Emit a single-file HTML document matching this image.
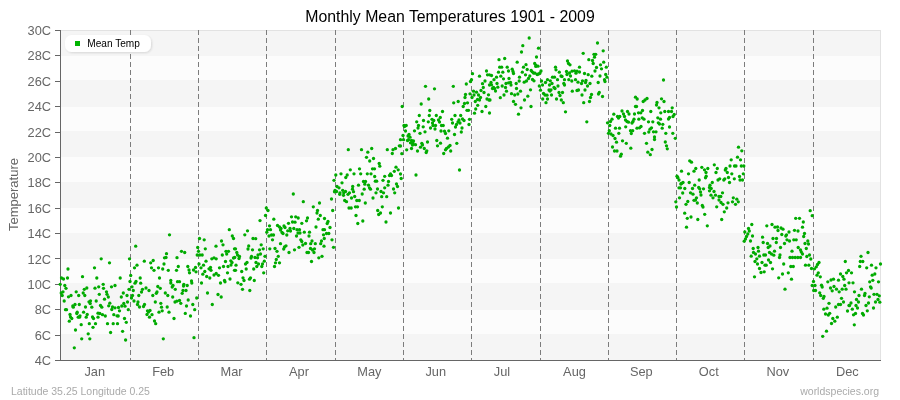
<!DOCTYPE html>
<html lang="en"><head><meta charset="utf-8"><title>Monthly Mean Temperatures 1901 - 2009</title>
<style>html,body{margin:0;padding:0;background:#fff;overflow:hidden}svg{display:block}text{font-family:"Liberation Sans",sans-serif}</style></head><body>
<svg width="900" height="400" viewBox="0 0 900 400">
<defs><filter id="sh" x="-10%" y="-30%" width="120%" height="170%"><feGaussianBlur in="SourceAlpha" stdDeviation="1"/><feOffset dx="1" dy="1"/><feComponentTransfer><feFuncA type="linear" slope="0.13"/></feComponentTransfer><feMerge><feMergeNode/><feMergeNode in="SourceGraphic"/></feMerge></filter></defs>
<rect width="900" height="400" fill="#fff"/>
<rect x="60" y="30" width="821" height="330" fill="#f5f5f5" shape-rendering="crispEdges"/>
<g fill="#fcfcfc" shape-rendering="crispEdges">
<rect x="61" y="56" width="820" height="24"/>
<rect x="61" y="107" width="820" height="24"/>
<rect x="61" y="157" width="820" height="25"/>
<rect x="61" y="208" width="820" height="25"/>
<rect x="61" y="259" width="820" height="24"/>
<rect x="61" y="310" width="820" height="24"/>
</g>
<g fill="#e2e2e2" shape-rendering="crispEdges"><rect x="60" y="30" width="821" height="1"/><rect x="880" y="30" width="1" height="330"/></g>
<g stroke="#7c7c7c" stroke-width="1" stroke-dasharray="5 3" shape-rendering="crispEdges">
<line x1="130.5" y1="30" x2="130.5" y2="360"/>
<line x1="198.5" y1="30" x2="198.5" y2="360"/>
<line x1="266.5" y1="30" x2="266.5" y2="360"/>
<line x1="335.5" y1="30" x2="335.5" y2="360"/>
<line x1="403.5" y1="30" x2="403.5" y2="360"/>
<line x1="471.5" y1="30" x2="471.5" y2="360"/>
<line x1="540.5" y1="30" x2="540.5" y2="360"/>
<line x1="608.5" y1="30" x2="608.5" y2="360"/>
<line x1="676.5" y1="30" x2="676.5" y2="360"/>
<line x1="744.5" y1="30" x2="744.5" y2="360"/>
<line x1="813.5" y1="30" x2="813.5" y2="360"/>
</g>
<g fill="#666" shape-rendering="crispEdges">
<rect x="60" y="30" width="1" height="331"/>
<rect x="60" y="360" width="821" height="1"/>
<rect x="55" y="30" width="5" height="1"/>
<rect x="55" y="55" width="5" height="1"/>
<rect x="55" y="81" width="5" height="1"/>
<rect x="55" y="106" width="5" height="1"/>
<rect x="55" y="132" width="5" height="1"/>
<rect x="55" y="157" width="5" height="1"/>
<rect x="55" y="182" width="5" height="1"/>
<rect x="55" y="208" width="5" height="1"/>
<rect x="55" y="233" width="5" height="1"/>
<rect x="55" y="258" width="5" height="1"/>
<rect x="55" y="284" width="5" height="1"/>
<rect x="55" y="309" width="5" height="1"/>
<rect x="55" y="335" width="5" height="1"/>
<rect x="55" y="360" width="5" height="1"/>
</g>
<g fill="#00ab00">
<circle cx="135.7" cy="246.2" r="1.65"/>
<circle cx="101.2" cy="258.8" r="1.65"/>
<circle cx="129.5" cy="258.8" r="1.65"/>
<circle cx="109.5" cy="262.8" r="1.65"/>
<circle cx="144.3" cy="261.2" r="1.65"/>
<circle cx="137.0" cy="265.2" r="1.65"/>
<circle cx="134.5" cy="267.8" r="1.65"/>
<circle cx="68.0" cy="269.0" r="1.65"/>
<circle cx="94.5" cy="267.8" r="1.65"/>
<circle cx="130.7" cy="275.5" r="1.65"/>
<circle cx="61.5" cy="278.0" r="1.65"/>
<circle cx="63.5" cy="279.0" r="1.65"/>
<circle cx="67.5" cy="278.0" r="1.65"/>
<circle cx="82.5" cy="276.7" r="1.65"/>
<circle cx="96.8" cy="278.0" r="1.65"/>
<circle cx="120.2" cy="278.0" r="1.65"/>
<circle cx="140.2" cy="278.0" r="1.65"/>
<circle cx="130.0" cy="281.5" r="1.65"/>
<circle cx="136.0" cy="281.5" r="1.65"/>
<circle cx="135.0" cy="283.2" r="1.65"/>
<circle cx="140.7" cy="283.2" r="1.65"/>
<circle cx="60.2" cy="284.3" r="1.65"/>
<circle cx="103.2" cy="284.3" r="1.65"/>
<circle cx="115.0" cy="285.5" r="1.65"/>
<circle cx="111.5" cy="286.8" r="1.65"/>
<circle cx="64.8" cy="285.5" r="1.65"/>
<circle cx="66.0" cy="288.3" r="1.65"/>
<circle cx="98.7" cy="286.8" r="1.65"/>
<circle cx="95.0" cy="288.2" r="1.65"/>
<circle cx="103.5" cy="288.3" r="1.65"/>
<circle cx="86.8" cy="288.0" r="1.65"/>
<circle cx="84.3" cy="289.3" r="1.65"/>
<circle cx="132.0" cy="286.8" r="1.65"/>
<circle cx="129.0" cy="289.3" r="1.65"/>
<circle cx="133.3" cy="290.5" r="1.65"/>
<circle cx="142.5" cy="289.3" r="1.65"/>
<circle cx="141.5" cy="292.0" r="1.65"/>
<circle cx="63.0" cy="291.8" r="1.65"/>
<circle cx="61.2" cy="293.0" r="1.65"/>
<circle cx="62.2" cy="295.5" r="1.65"/>
<circle cx="76.2" cy="291.8" r="1.65"/>
<circle cx="83.2" cy="293.0" r="1.65"/>
<circle cx="84.8" cy="295.5" r="1.65"/>
<circle cx="78.7" cy="295.5" r="1.65"/>
<circle cx="71.0" cy="295.5" r="1.65"/>
<circle cx="68.5" cy="296.8" r="1.65"/>
<circle cx="99.3" cy="294.3" r="1.65"/>
<circle cx="106.5" cy="291.8" r="1.65"/>
<circle cx="107.0" cy="294.3" r="1.65"/>
<circle cx="108.3" cy="297.0" r="1.65"/>
<circle cx="123.3" cy="293.0" r="1.65"/>
<circle cx="127.0" cy="295.5" r="1.65"/>
<circle cx="121.3" cy="297.0" r="1.65"/>
<circle cx="132.5" cy="295.5" r="1.65"/>
<circle cx="131.5" cy="298.0" r="1.65"/>
<circle cx="138.8" cy="295.5" r="1.65"/>
<circle cx="104.5" cy="299.2" r="1.65"/>
<circle cx="64.2" cy="301.0" r="1.65"/>
<circle cx="89.0" cy="301.8" r="1.65"/>
<circle cx="90.5" cy="300.8" r="1.65"/>
<circle cx="90.2" cy="303.5" r="1.65"/>
<circle cx="96.2" cy="301.0" r="1.65"/>
<circle cx="109.8" cy="303.2" r="1.65"/>
<circle cx="108.7" cy="305.8" r="1.65"/>
<circle cx="127.5" cy="302.0" r="1.65"/>
<circle cx="123.8" cy="303.5" r="1.65"/>
<circle cx="121.8" cy="306.0" r="1.65"/>
<circle cx="125.0" cy="306.2" r="1.65"/>
<circle cx="134.0" cy="301.0" r="1.65"/>
<circle cx="138.0" cy="302.0" r="1.65"/>
<circle cx="137.5" cy="304.5" r="1.65"/>
<circle cx="139.5" cy="307.0" r="1.65"/>
<circle cx="143.5" cy="306.5" r="1.65"/>
<circle cx="144.5" cy="304.5" r="1.65"/>
<circle cx="75.0" cy="304.5" r="1.65"/>
<circle cx="72.8" cy="306.0" r="1.65"/>
<circle cx="73.3" cy="307.2" r="1.65"/>
<circle cx="79.3" cy="304.5" r="1.65"/>
<circle cx="85.5" cy="307.0" r="1.65"/>
<circle cx="91.8" cy="307.2" r="1.65"/>
<circle cx="100.5" cy="305.5" r="1.65"/>
<circle cx="101.8" cy="307.2" r="1.65"/>
<circle cx="112.5" cy="307.0" r="1.65"/>
<circle cx="115.0" cy="307.8" r="1.65"/>
<circle cx="118.5" cy="307.5" r="1.65"/>
<circle cx="111.8" cy="309.5" r="1.65"/>
<circle cx="119.5" cy="310.8" r="1.65"/>
<circle cx="128.3" cy="309.7" r="1.65"/>
<circle cx="65.5" cy="309.7" r="1.65"/>
<circle cx="66.5" cy="309.7" r="1.65"/>
<circle cx="77.2" cy="312.2" r="1.65"/>
<circle cx="76.8" cy="313.5" r="1.65"/>
<circle cx="83.6" cy="312.2" r="1.65"/>
<circle cx="70.0" cy="314.5" r="1.65"/>
<circle cx="70.5" cy="317.0" r="1.65"/>
<circle cx="71.8" cy="318.5" r="1.65"/>
<circle cx="69.3" cy="321.2" r="1.65"/>
<circle cx="80.0" cy="315.8" r="1.65"/>
<circle cx="78.2" cy="317.2" r="1.65"/>
<circle cx="79.5" cy="317.2" r="1.65"/>
<circle cx="87.2" cy="314.5" r="1.65"/>
<circle cx="86.2" cy="317.2" r="1.65"/>
<circle cx="92.5" cy="317.0" r="1.65"/>
<circle cx="93.5" cy="318.5" r="1.65"/>
<circle cx="98.0" cy="313.2" r="1.65"/>
<circle cx="99.8" cy="313.5" r="1.65"/>
<circle cx="102.5" cy="314.7" r="1.65"/>
<circle cx="105.3" cy="316.0" r="1.65"/>
<circle cx="98.0" cy="317.2" r="1.65"/>
<circle cx="113.8" cy="314.7" r="1.65"/>
<circle cx="117.0" cy="315.8" r="1.65"/>
<circle cx="118.2" cy="316.0" r="1.65"/>
<circle cx="124.5" cy="318.5" r="1.65"/>
<circle cx="126.3" cy="322.3" r="1.65"/>
<circle cx="81.2" cy="324.7" r="1.65"/>
<circle cx="89.3" cy="323.7" r="1.65"/>
<circle cx="95.5" cy="323.7" r="1.65"/>
<circle cx="107.5" cy="323.7" r="1.65"/>
<circle cx="113.2" cy="323.7" r="1.65"/>
<circle cx="117.5" cy="323.7" r="1.65"/>
<circle cx="93.0" cy="327.3" r="1.65"/>
<circle cx="75.5" cy="330.0" r="1.65"/>
<circle cx="88.2" cy="333.8" r="1.65"/>
<circle cx="110.6" cy="332.5" r="1.65"/>
<circle cx="122.6" cy="331.3" r="1.65"/>
<circle cx="81.7" cy="338.8" r="1.65"/>
<circle cx="89.8" cy="338.8" r="1.65"/>
<circle cx="125.6" cy="340.0" r="1.65"/>
<circle cx="74.3" cy="347.8" r="1.65"/>
<circle cx="155.3" cy="302.0" r="1.65"/>
<circle cx="160.8" cy="303.3" r="1.65"/>
<circle cx="161.5" cy="307.2" r="1.65"/>
<circle cx="167.2" cy="307.0" r="1.65"/>
<circle cx="175.0" cy="302.0" r="1.65"/>
<circle cx="176.8" cy="301.2" r="1.65"/>
<circle cx="179.5" cy="300.5" r="1.65"/>
<circle cx="180.8" cy="303.3" r="1.65"/>
<circle cx="188.2" cy="300.0" r="1.65"/>
<circle cx="186.5" cy="306.0" r="1.65"/>
<circle cx="192.8" cy="304.5" r="1.65"/>
<circle cx="194.7" cy="309.7" r="1.65"/>
<circle cx="212.3" cy="304.5" r="1.65"/>
<circle cx="147.5" cy="310.8" r="1.65"/>
<circle cx="150.0" cy="310.5" r="1.65"/>
<circle cx="148.5" cy="312.0" r="1.65"/>
<circle cx="147.0" cy="314.5" r="1.65"/>
<circle cx="152.0" cy="314.7" r="1.65"/>
<circle cx="149.5" cy="317.2" r="1.65"/>
<circle cx="159.0" cy="312.2" r="1.65"/>
<circle cx="162.2" cy="310.8" r="1.65"/>
<circle cx="169.0" cy="312.2" r="1.65"/>
<circle cx="185.3" cy="313.4" r="1.65"/>
<circle cx="190.5" cy="316.0" r="1.65"/>
<circle cx="174.0" cy="318.5" r="1.65"/>
<circle cx="154.5" cy="321.0" r="1.65"/>
<circle cx="155.7" cy="323.7" r="1.65"/>
<circle cx="163.3" cy="338.8" r="1.65"/>
<circle cx="194.0" cy="337.7" r="1.65"/>
<circle cx="153.2" cy="260.5" r="1.65"/>
<circle cx="150.7" cy="262.8" r="1.65"/>
<circle cx="164.0" cy="264.0" r="1.65"/>
<circle cx="206.0" cy="261.2" r="1.65"/>
<circle cx="225.5" cy="261.5" r="1.65"/>
<circle cx="230.8" cy="260.8" r="1.65"/>
<circle cx="232.0" cy="262.5" r="1.65"/>
<circle cx="231.0" cy="265.0" r="1.65"/>
<circle cx="199.0" cy="264.0" r="1.65"/>
<circle cx="203.5" cy="265.2" r="1.65"/>
<circle cx="201.0" cy="267.8" r="1.65"/>
<circle cx="195.5" cy="267.5" r="1.65"/>
<circle cx="193.5" cy="270.0" r="1.65"/>
<circle cx="196.0" cy="271.8" r="1.65"/>
<circle cx="151.5" cy="267.8" r="1.65"/>
<circle cx="154.0" cy="270.3" r="1.65"/>
<circle cx="158.5" cy="267.8" r="1.65"/>
<circle cx="162.7" cy="269.0" r="1.65"/>
<circle cx="168.3" cy="270.3" r="1.65"/>
<circle cx="178.3" cy="266.5" r="1.65"/>
<circle cx="176.5" cy="270.3" r="1.65"/>
<circle cx="187.8" cy="266.5" r="1.65"/>
<circle cx="189.0" cy="270.0" r="1.65"/>
<circle cx="189.5" cy="272.8" r="1.65"/>
<circle cx="209.0" cy="268.8" r="1.65"/>
<circle cx="210.5" cy="267.5" r="1.65"/>
<circle cx="211.0" cy="270.3" r="1.65"/>
<circle cx="204.8" cy="271.5" r="1.65"/>
<circle cx="202.8" cy="274.2" r="1.65"/>
<circle cx="219.5" cy="267.8" r="1.65"/>
<circle cx="223.5" cy="266.5" r="1.65"/>
<circle cx="228.0" cy="266.5" r="1.65"/>
<circle cx="234.5" cy="270.3" r="1.65"/>
<circle cx="227.5" cy="272.8" r="1.65"/>
<circle cx="214.0" cy="275.0" r="1.65"/>
<circle cx="216.2" cy="273.5" r="1.65"/>
<circle cx="218.5" cy="275.3" r="1.65"/>
<circle cx="206.7" cy="276.5" r="1.65"/>
<circle cx="209.8" cy="278.0" r="1.65"/>
<circle cx="159.5" cy="278.0" r="1.65"/>
<circle cx="230.0" cy="279.0" r="1.65"/>
<circle cx="224.5" cy="280.5" r="1.65"/>
<circle cx="225.0" cy="281.8" r="1.65"/>
<circle cx="220.5" cy="283.0" r="1.65"/>
<circle cx="170.8" cy="280.5" r="1.65"/>
<circle cx="170.8" cy="283.0" r="1.65"/>
<circle cx="177.5" cy="281.7" r="1.65"/>
<circle cx="179.5" cy="281.7" r="1.65"/>
<circle cx="191.5" cy="281.0" r="1.65"/>
<circle cx="191.8" cy="283.0" r="1.65"/>
<circle cx="201.5" cy="283.0" r="1.65"/>
<circle cx="183.8" cy="284.3" r="1.65"/>
<circle cx="183.5" cy="286.0" r="1.65"/>
<circle cx="187.2" cy="285.5" r="1.65"/>
<circle cx="173.0" cy="285.5" r="1.65"/>
<circle cx="172.2" cy="287.0" r="1.65"/>
<circle cx="175.3" cy="289.3" r="1.65"/>
<circle cx="146.0" cy="288.0" r="1.65"/>
<circle cx="149.0" cy="290.5" r="1.65"/>
<circle cx="157.8" cy="286.5" r="1.65"/>
<circle cx="160.3" cy="288.3" r="1.65"/>
<circle cx="157.0" cy="292.0" r="1.65"/>
<circle cx="156.3" cy="293.3" r="1.65"/>
<circle cx="152.8" cy="295.5" r="1.65"/>
<circle cx="165.3" cy="293.0" r="1.65"/>
<circle cx="167.8" cy="295.5" r="1.65"/>
<circle cx="172.7" cy="297.0" r="1.65"/>
<circle cx="183.0" cy="290.5" r="1.65"/>
<circle cx="186.0" cy="290.5" r="1.65"/>
<circle cx="182.2" cy="293.3" r="1.65"/>
<circle cx="207.5" cy="293.0" r="1.65"/>
<circle cx="218.0" cy="294.5" r="1.65"/>
<circle cx="221.2" cy="297.0" r="1.65"/>
<circle cx="196.7" cy="298.0" r="1.65"/>
<circle cx="169.5" cy="234.8" r="1.65"/>
<circle cx="229.3" cy="229.7" r="1.65"/>
<circle cx="232.3" cy="236.0" r="1.65"/>
<circle cx="233.5" cy="238.5" r="1.65"/>
<circle cx="199.5" cy="238.5" r="1.65"/>
<circle cx="204.2" cy="239.8" r="1.65"/>
<circle cx="221.5" cy="241.0" r="1.65"/>
<circle cx="223.0" cy="244.8" r="1.65"/>
<circle cx="216.0" cy="246.2" r="1.65"/>
<circle cx="197.7" cy="247.5" r="1.65"/>
<circle cx="205.3" cy="248.8" r="1.65"/>
<circle cx="198.5" cy="251.3" r="1.65"/>
<circle cx="197.2" cy="255.0" r="1.65"/>
<circle cx="199.8" cy="255.0" r="1.65"/>
<circle cx="202.2" cy="255.0" r="1.65"/>
<circle cx="181.5" cy="251.3" r="1.65"/>
<circle cx="184.7" cy="252.5" r="1.65"/>
<circle cx="166.5" cy="253.7" r="1.65"/>
<circle cx="164.5" cy="257.8" r="1.65"/>
<circle cx="166.0" cy="257.5" r="1.65"/>
<circle cx="177.0" cy="257.7" r="1.65"/>
<circle cx="234.5" cy="248.8" r="1.65"/>
<circle cx="226.0" cy="251.3" r="1.65"/>
<circle cx="228.5" cy="251.3" r="1.65"/>
<circle cx="226.7" cy="254.0" r="1.65"/>
<circle cx="222.3" cy="255.0" r="1.65"/>
<circle cx="214.0" cy="257.8" r="1.65"/>
<circle cx="211.8" cy="258.8" r="1.65"/>
<circle cx="216.2" cy="258.8" r="1.65"/>
<circle cx="233.5" cy="258.0" r="1.65"/>
<circle cx="234.7" cy="257.5" r="1.65"/>
<circle cx="293.3" cy="194.0" r="1.65"/>
<circle cx="303.3" cy="201.7" r="1.65"/>
<circle cx="319.5" cy="203.0" r="1.65"/>
<circle cx="313.3" cy="206.8" r="1.65"/>
<circle cx="266.3" cy="208.0" r="1.65"/>
<circle cx="268.0" cy="210.5" r="1.65"/>
<circle cx="265.5" cy="215.5" r="1.65"/>
<circle cx="317.5" cy="210.5" r="1.65"/>
<circle cx="317.0" cy="213.0" r="1.65"/>
<circle cx="320.3" cy="215.5" r="1.65"/>
<circle cx="291.5" cy="216.8" r="1.65"/>
<circle cx="295.7" cy="216.8" r="1.65"/>
<circle cx="298.2" cy="218.0" r="1.65"/>
<circle cx="307.5" cy="218.0" r="1.65"/>
<circle cx="318.3" cy="219.2" r="1.65"/>
<circle cx="273.8" cy="219.2" r="1.65"/>
<circle cx="324.5" cy="218.5" r="1.65"/>
<circle cx="260.0" cy="220.6" r="1.65"/>
<circle cx="292.5" cy="222.0" r="1.65"/>
<circle cx="295.0" cy="222.2" r="1.65"/>
<circle cx="306.5" cy="220.8" r="1.65"/>
<circle cx="288.5" cy="223.3" r="1.65"/>
<circle cx="301.8" cy="223.3" r="1.65"/>
<circle cx="316.0" cy="227.0" r="1.65"/>
<circle cx="269.5" cy="225.8" r="1.65"/>
<circle cx="277.5" cy="225.5" r="1.65"/>
<circle cx="279.5" cy="227.0" r="1.65"/>
<circle cx="281.0" cy="228.5" r="1.65"/>
<circle cx="284.0" cy="226.0" r="1.65"/>
<circle cx="285.0" cy="227.5" r="1.65"/>
<circle cx="280.5" cy="230.0" r="1.65"/>
<circle cx="282.0" cy="232.5" r="1.65"/>
<circle cx="283.0" cy="233.5" r="1.65"/>
<circle cx="267.5" cy="229.7" r="1.65"/>
<circle cx="270.5" cy="229.7" r="1.65"/>
<circle cx="266.8" cy="232.2" r="1.65"/>
<circle cx="290.0" cy="228.5" r="1.65"/>
<circle cx="293.8" cy="228.5" r="1.65"/>
<circle cx="287.7" cy="230.8" r="1.65"/>
<circle cx="290.5" cy="231.0" r="1.65"/>
<circle cx="286.8" cy="235.0" r="1.65"/>
<circle cx="297.0" cy="229.7" r="1.65"/>
<circle cx="299.5" cy="229.7" r="1.65"/>
<circle cx="298.0" cy="233.0" r="1.65"/>
<circle cx="300.0" cy="233.0" r="1.65"/>
<circle cx="296.5" cy="236.0" r="1.65"/>
<circle cx="304.3" cy="232.2" r="1.65"/>
<circle cx="309.5" cy="232.2" r="1.65"/>
<circle cx="309.0" cy="236.0" r="1.65"/>
<circle cx="323.0" cy="229.7" r="1.65"/>
<circle cx="324.5" cy="229.7" r="1.65"/>
<circle cx="323.5" cy="234.8" r="1.65"/>
<circle cx="324.3" cy="238.5" r="1.65"/>
<circle cx="247.5" cy="230.8" r="1.65"/>
<circle cx="244.8" cy="234.8" r="1.65"/>
<circle cx="269.0" cy="236.0" r="1.65"/>
<circle cx="271.5" cy="235.0" r="1.65"/>
<circle cx="273.5" cy="235.0" r="1.65"/>
<circle cx="272.5" cy="239.8" r="1.65"/>
<circle cx="253.0" cy="238.5" r="1.65"/>
<circle cx="255.7" cy="238.7" r="1.65"/>
<circle cx="300.8" cy="239.8" r="1.65"/>
<circle cx="301.8" cy="241.5" r="1.65"/>
<circle cx="305.5" cy="243.5" r="1.65"/>
<circle cx="302.8" cy="245.0" r="1.65"/>
<circle cx="312.0" cy="241.0" r="1.65"/>
<circle cx="310.7" cy="243.7" r="1.65"/>
<circle cx="315.3" cy="243.7" r="1.65"/>
<circle cx="321.5" cy="241.0" r="1.65"/>
<circle cx="320.7" cy="243.7" r="1.65"/>
<circle cx="324.0" cy="246.2" r="1.65"/>
<circle cx="280.5" cy="243.7" r="1.65"/>
<circle cx="286.0" cy="245.8" r="1.65"/>
<circle cx="284.5" cy="247.0" r="1.65"/>
<circle cx="283.7" cy="249.0" r="1.65"/>
<circle cx="261.2" cy="244.8" r="1.65"/>
<circle cx="248.7" cy="246.0" r="1.65"/>
<circle cx="248.0" cy="249.0" r="1.65"/>
<circle cx="252.5" cy="249.8" r="1.65"/>
<circle cx="259.5" cy="249.8" r="1.65"/>
<circle cx="263.2" cy="248.8" r="1.65"/>
<circle cx="269.8" cy="248.8" r="1.65"/>
<circle cx="275.0" cy="248.5" r="1.65"/>
<circle cx="277.0" cy="251.3" r="1.65"/>
<circle cx="299.0" cy="247.3" r="1.65"/>
<circle cx="294.5" cy="249.8" r="1.65"/>
<circle cx="289.0" cy="252.5" r="1.65"/>
<circle cx="310.5" cy="248.5" r="1.65"/>
<circle cx="314.5" cy="248.8" r="1.65"/>
<circle cx="312.5" cy="250.0" r="1.65"/>
<circle cx="314.0" cy="252.5" r="1.65"/>
<circle cx="307.0" cy="252.5" r="1.65"/>
<circle cx="308.5" cy="252.5" r="1.65"/>
<circle cx="235.5" cy="248.8" r="1.65"/>
<circle cx="236.8" cy="252.5" r="1.65"/>
<circle cx="237.5" cy="255.0" r="1.65"/>
<circle cx="239.5" cy="256.5" r="1.65"/>
<circle cx="239.0" cy="258.5" r="1.65"/>
<circle cx="260.5" cy="254.0" r="1.65"/>
<circle cx="258.0" cy="255.0" r="1.65"/>
<circle cx="251.5" cy="256.5" r="1.65"/>
<circle cx="251.0" cy="258.0" r="1.65"/>
<circle cx="255.0" cy="257.5" r="1.65"/>
<circle cx="257.5" cy="257.8" r="1.65"/>
<circle cx="265.0" cy="256.3" r="1.65"/>
<circle cx="278.3" cy="256.3" r="1.65"/>
<circle cx="276.3" cy="259.5" r="1.65"/>
<circle cx="322.0" cy="256.3" r="1.65"/>
<circle cx="318.8" cy="257.8" r="1.65"/>
<circle cx="264.3" cy="261.2" r="1.65"/>
<circle cx="275.5" cy="262.8" r="1.65"/>
<circle cx="311.5" cy="261.5" r="1.65"/>
<circle cx="247.0" cy="262.5" r="1.65"/>
<circle cx="245.5" cy="264.0" r="1.65"/>
<circle cx="256.0" cy="262.5" r="1.65"/>
<circle cx="258.5" cy="264.0" r="1.65"/>
<circle cx="256.8" cy="266.5" r="1.65"/>
<circle cx="262.5" cy="264.0" r="1.65"/>
<circle cx="261.8" cy="266.5" r="1.65"/>
<circle cx="279.5" cy="262.8" r="1.65"/>
<circle cx="274.5" cy="266.5" r="1.65"/>
<circle cx="236.0" cy="265.2" r="1.65"/>
<circle cx="235.5" cy="270.3" r="1.65"/>
<circle cx="246.2" cy="269.0" r="1.65"/>
<circle cx="241.7" cy="271.5" r="1.65"/>
<circle cx="253.7" cy="269.0" r="1.65"/>
<circle cx="263.7" cy="272.8" r="1.65"/>
<circle cx="243.0" cy="277.8" r="1.65"/>
<circle cx="244.0" cy="280.5" r="1.65"/>
<circle cx="250.5" cy="277.8" r="1.65"/>
<circle cx="249.5" cy="279.2" r="1.65"/>
<circle cx="254.3" cy="280.5" r="1.65"/>
<circle cx="237.8" cy="282.8" r="1.65"/>
<circle cx="241.0" cy="284.3" r="1.65"/>
<circle cx="242.5" cy="289.3" r="1.65"/>
<circle cx="249.8" cy="290.5" r="1.65"/>
<circle cx="334.0" cy="180.3" r="1.65"/>
<circle cx="383.0" cy="180.3" r="1.65"/>
<circle cx="363.5" cy="181.5" r="1.65"/>
<circle cx="365.5" cy="181.5" r="1.65"/>
<circle cx="364.8" cy="184.2" r="1.65"/>
<circle cx="375.3" cy="181.2" r="1.65"/>
<circle cx="376.7" cy="181.2" r="1.65"/>
<circle cx="388.5" cy="181.5" r="1.65"/>
<circle cx="388.0" cy="185.2" r="1.65"/>
<circle cx="342.0" cy="182.8" r="1.65"/>
<circle cx="358.5" cy="185.2" r="1.65"/>
<circle cx="368.5" cy="185.2" r="1.65"/>
<circle cx="369.5" cy="187.8" r="1.65"/>
<circle cx="370.5" cy="189.2" r="1.65"/>
<circle cx="364.2" cy="189.2" r="1.65"/>
<circle cx="352.7" cy="186.5" r="1.65"/>
<circle cx="352.5" cy="189.2" r="1.65"/>
<circle cx="353.5" cy="191.7" r="1.65"/>
<circle cx="337.0" cy="186.5" r="1.65"/>
<circle cx="339.0" cy="187.8" r="1.65"/>
<circle cx="335.0" cy="190.5" r="1.65"/>
<circle cx="336.5" cy="191.5" r="1.65"/>
<circle cx="334.5" cy="191.8" r="1.65"/>
<circle cx="340.0" cy="192.8" r="1.65"/>
<circle cx="339.7" cy="194.3" r="1.65"/>
<circle cx="342.7" cy="190.3" r="1.65"/>
<circle cx="345.5" cy="191.5" r="1.65"/>
<circle cx="343.7" cy="192.8" r="1.65"/>
<circle cx="343.5" cy="195.3" r="1.65"/>
<circle cx="349.5" cy="192.8" r="1.65"/>
<circle cx="348.0" cy="194.3" r="1.65"/>
<circle cx="384.7" cy="187.8" r="1.65"/>
<circle cx="377.5" cy="189.0" r="1.65"/>
<circle cx="381.0" cy="191.5" r="1.65"/>
<circle cx="383.5" cy="192.8" r="1.65"/>
<circle cx="376.0" cy="192.8" r="1.65"/>
<circle cx="396.5" cy="184.0" r="1.65"/>
<circle cx="397.5" cy="186.5" r="1.65"/>
<circle cx="393.5" cy="189.0" r="1.65"/>
<circle cx="394.7" cy="192.8" r="1.65"/>
<circle cx="362.2" cy="194.0" r="1.65"/>
<circle cx="354.7" cy="196.5" r="1.65"/>
<circle cx="351.5" cy="198.0" r="1.65"/>
<circle cx="373.0" cy="198.0" r="1.65"/>
<circle cx="381.7" cy="196.7" r="1.65"/>
<circle cx="386.7" cy="196.7" r="1.65"/>
<circle cx="331.5" cy="199.0" r="1.65"/>
<circle cx="344.7" cy="200.5" r="1.65"/>
<circle cx="346.5" cy="201.7" r="1.65"/>
<circle cx="356.8" cy="200.5" r="1.65"/>
<circle cx="359.3" cy="200.5" r="1.65"/>
<circle cx="365.3" cy="203.0" r="1.65"/>
<circle cx="349.0" cy="208.0" r="1.65"/>
<circle cx="351.2" cy="208.0" r="1.65"/>
<circle cx="355.5" cy="206.8" r="1.65"/>
<circle cx="357.5" cy="206.8" r="1.65"/>
<circle cx="382.3" cy="206.8" r="1.65"/>
<circle cx="398.5" cy="208.0" r="1.65"/>
<circle cx="332.7" cy="210.5" r="1.65"/>
<circle cx="377.7" cy="210.5" r="1.65"/>
<circle cx="380.5" cy="213.0" r="1.65"/>
<circle cx="378.7" cy="214.5" r="1.65"/>
<circle cx="390.5" cy="213.0" r="1.65"/>
<circle cx="356.0" cy="215.5" r="1.65"/>
<circle cx="399.3" cy="145.8" r="1.65"/>
<circle cx="395.5" cy="148.5" r="1.65"/>
<circle cx="393.0" cy="149.7" r="1.65"/>
<circle cx="392.3" cy="153.5" r="1.65"/>
<circle cx="387.3" cy="149.7" r="1.65"/>
<circle cx="348.3" cy="149.7" r="1.65"/>
<circle cx="361.5" cy="149.7" r="1.65"/>
<circle cx="371.7" cy="148.5" r="1.65"/>
<circle cx="367.8" cy="152.2" r="1.65"/>
<circle cx="366.5" cy="157.3" r="1.65"/>
<circle cx="373.5" cy="158.5" r="1.65"/>
<circle cx="369.7" cy="161.0" r="1.65"/>
<circle cx="379.2" cy="163.5" r="1.65"/>
<circle cx="379.8" cy="166.2" r="1.65"/>
<circle cx="396.0" cy="167.2" r="1.65"/>
<circle cx="398.2" cy="169.8" r="1.65"/>
<circle cx="394.3" cy="171.3" r="1.65"/>
<circle cx="359.5" cy="168.8" r="1.65"/>
<circle cx="372.5" cy="168.8" r="1.65"/>
<circle cx="374.5" cy="168.8" r="1.65"/>
<circle cx="350.3" cy="169.8" r="1.65"/>
<circle cx="335.8" cy="175.0" r="1.65"/>
<circle cx="341.0" cy="173.8" r="1.65"/>
<circle cx="347.2" cy="175.0" r="1.65"/>
<circle cx="345.8" cy="177.5" r="1.65"/>
<circle cx="354.0" cy="173.8" r="1.65"/>
<circle cx="360.7" cy="173.8" r="1.65"/>
<circle cx="367.3" cy="173.8" r="1.65"/>
<circle cx="371.0" cy="173.8" r="1.65"/>
<circle cx="374.7" cy="176.5" r="1.65"/>
<circle cx="384.7" cy="176.3" r="1.65"/>
<circle cx="389.5" cy="175.5" r="1.65"/>
<circle cx="391.5" cy="175.5" r="1.65"/>
<circle cx="390.5" cy="174.0" r="1.65"/>
<circle cx="328.0" cy="221.5" r="1.65"/>
<circle cx="327.2" cy="223.5" r="1.65"/>
<circle cx="330.0" cy="227.5" r="1.65"/>
<circle cx="326.5" cy="233.5" r="1.65"/>
<circle cx="328.8" cy="233.5" r="1.65"/>
<circle cx="332.0" cy="239.8" r="1.65"/>
<circle cx="333.5" cy="247.3" r="1.65"/>
<circle cx="357.8" cy="223.5" r="1.65"/>
<circle cx="362.8" cy="221.0" r="1.65"/>
<circle cx="386.0" cy="222.0" r="1.65"/>
<circle cx="405.5" cy="131.0" r="1.65"/>
<circle cx="414.5" cy="130.8" r="1.65"/>
<circle cx="425.0" cy="131.8" r="1.65"/>
<circle cx="420.0" cy="133.3" r="1.65"/>
<circle cx="441.0" cy="131.0" r="1.65"/>
<circle cx="444.5" cy="131.2" r="1.65"/>
<circle cx="448.8" cy="130.8" r="1.65"/>
<circle cx="445.5" cy="133.5" r="1.65"/>
<circle cx="461.3" cy="132.0" r="1.65"/>
<circle cx="454.5" cy="134.5" r="1.65"/>
<circle cx="403.0" cy="135.5" r="1.65"/>
<circle cx="400.5" cy="139.7" r="1.65"/>
<circle cx="403.5" cy="139.7" r="1.65"/>
<circle cx="400.5" cy="146.0" r="1.65"/>
<circle cx="409.0" cy="134.5" r="1.65"/>
<circle cx="408.0" cy="136.0" r="1.65"/>
<circle cx="410.0" cy="137.2" r="1.65"/>
<circle cx="408.5" cy="139.7" r="1.65"/>
<circle cx="407.5" cy="140.5" r="1.65"/>
<circle cx="411.5" cy="140.5" r="1.65"/>
<circle cx="413.5" cy="141.0" r="1.65"/>
<circle cx="410.5" cy="142.8" r="1.65"/>
<circle cx="413.0" cy="143.5" r="1.65"/>
<circle cx="412.5" cy="145.0" r="1.65"/>
<circle cx="415.5" cy="144.7" r="1.65"/>
<circle cx="411.5" cy="148.5" r="1.65"/>
<circle cx="421.8" cy="143.3" r="1.65"/>
<circle cx="422.5" cy="145.0" r="1.65"/>
<circle cx="420.5" cy="147.2" r="1.65"/>
<circle cx="424.3" cy="148.5" r="1.65"/>
<circle cx="427.5" cy="142.0" r="1.65"/>
<circle cx="436.8" cy="140.5" r="1.65"/>
<circle cx="440.5" cy="143.2" r="1.65"/>
<circle cx="437.5" cy="145.8" r="1.65"/>
<circle cx="447.5" cy="138.2" r="1.65"/>
<circle cx="456.8" cy="143.3" r="1.65"/>
<circle cx="450.0" cy="145.5" r="1.65"/>
<circle cx="448.5" cy="147.0" r="1.65"/>
<circle cx="446.5" cy="148.5" r="1.65"/>
<circle cx="445.5" cy="149.8" r="1.65"/>
<circle cx="450.7" cy="151.0" r="1.65"/>
<circle cx="443.7" cy="153.5" r="1.65"/>
<circle cx="426.8" cy="150.8" r="1.65"/>
<circle cx="426.2" cy="152.5" r="1.65"/>
<circle cx="417.5" cy="151.0" r="1.65"/>
<circle cx="406.7" cy="149.8" r="1.65"/>
<circle cx="401.8" cy="153.7" r="1.65"/>
<circle cx="459.5" cy="170.0" r="1.65"/>
<circle cx="434.5" cy="88.8" r="1.65"/>
<circle cx="428.7" cy="99.0" r="1.65"/>
<circle cx="421.2" cy="104.0" r="1.65"/>
<circle cx="402.2" cy="106.5" r="1.65"/>
<circle cx="453.7" cy="102.8" r="1.65"/>
<circle cx="458.2" cy="101.5" r="1.65"/>
<circle cx="465.5" cy="94.5" r="1.65"/>
<circle cx="465.0" cy="97.5" r="1.65"/>
<circle cx="467.5" cy="102.8" r="1.65"/>
<circle cx="464.5" cy="103.5" r="1.65"/>
<circle cx="463.2" cy="106.5" r="1.65"/>
<circle cx="470.0" cy="93.8" r="1.65"/>
<circle cx="473.5" cy="91.2" r="1.65"/>
<circle cx="476.5" cy="92.2" r="1.65"/>
<circle cx="481.0" cy="90.5" r="1.65"/>
<circle cx="484.0" cy="92.5" r="1.65"/>
<circle cx="474.0" cy="95.0" r="1.65"/>
<circle cx="478.5" cy="95.0" r="1.65"/>
<circle cx="472.0" cy="97.5" r="1.65"/>
<circle cx="480.5" cy="97.5" r="1.65"/>
<circle cx="477.5" cy="99.5" r="1.65"/>
<circle cx="479.5" cy="100.0" r="1.65"/>
<circle cx="475.3" cy="101.5" r="1.65"/>
<circle cx="488.5" cy="94.8" r="1.65"/>
<circle cx="487.0" cy="99.0" r="1.65"/>
<circle cx="489.0" cy="100.0" r="1.65"/>
<circle cx="477.7" cy="105.3" r="1.65"/>
<circle cx="485.8" cy="106.5" r="1.65"/>
<circle cx="475.7" cy="109.0" r="1.65"/>
<circle cx="482.0" cy="111.5" r="1.65"/>
<circle cx="474.5" cy="113.2" r="1.65"/>
<circle cx="489.5" cy="113.0" r="1.65"/>
<circle cx="467.0" cy="110.3" r="1.65"/>
<circle cx="468.5" cy="110.3" r="1.65"/>
<circle cx="429.8" cy="110.5" r="1.65"/>
<circle cx="442.5" cy="111.5" r="1.65"/>
<circle cx="419.3" cy="115.5" r="1.65"/>
<circle cx="429.3" cy="115.5" r="1.65"/>
<circle cx="436.3" cy="115.5" r="1.65"/>
<circle cx="455.0" cy="115.5" r="1.65"/>
<circle cx="460.7" cy="115.5" r="1.65"/>
<circle cx="440.3" cy="117.5" r="1.65"/>
<circle cx="432.0" cy="119.3" r="1.65"/>
<circle cx="433.8" cy="120.5" r="1.65"/>
<circle cx="438.5" cy="120.0" r="1.65"/>
<circle cx="439.5" cy="122.0" r="1.65"/>
<circle cx="432.5" cy="123.0" r="1.65"/>
<circle cx="423.5" cy="120.5" r="1.65"/>
<circle cx="428.3" cy="121.8" r="1.65"/>
<circle cx="416.7" cy="121.8" r="1.65"/>
<circle cx="451.7" cy="119.3" r="1.65"/>
<circle cx="452.5" cy="123.0" r="1.65"/>
<circle cx="459.0" cy="120.0" r="1.65"/>
<circle cx="458.0" cy="122.0" r="1.65"/>
<circle cx="460.0" cy="123.0" r="1.65"/>
<circle cx="462.5" cy="119.0" r="1.65"/>
<circle cx="464.0" cy="120.5" r="1.65"/>
<circle cx="469.5" cy="119.3" r="1.65"/>
<circle cx="469.0" cy="124.5" r="1.65"/>
<circle cx="456.5" cy="124.5" r="1.65"/>
<circle cx="455.5" cy="127.0" r="1.65"/>
<circle cx="462.0" cy="128.0" r="1.65"/>
<circle cx="433.0" cy="125.5" r="1.65"/>
<circle cx="435.5" cy="125.5" r="1.65"/>
<circle cx="441.5" cy="125.5" r="1.65"/>
<circle cx="443.2" cy="125.5" r="1.65"/>
<circle cx="418.5" cy="125.5" r="1.65"/>
<circle cx="418.0" cy="128.0" r="1.65"/>
<circle cx="423.2" cy="126.8" r="1.65"/>
<circle cx="404.0" cy="125.5" r="1.65"/>
<circle cx="406.2" cy="125.5" r="1.65"/>
<circle cx="404.5" cy="126.5" r="1.65"/>
<circle cx="430.5" cy="128.0" r="1.65"/>
<circle cx="435.0" cy="129.0" r="1.65"/>
<circle cx="425.5" cy="86.3" r="1.65"/>
<circle cx="453.3" cy="86.3" r="1.65"/>
<circle cx="466.3" cy="84.0" r="1.65"/>
<circle cx="472.5" cy="73.7" r="1.65"/>
<circle cx="471.5" cy="79.7" r="1.65"/>
<circle cx="470.5" cy="81.5" r="1.65"/>
<circle cx="479.5" cy="76.2" r="1.65"/>
<circle cx="486.5" cy="71.0" r="1.65"/>
<circle cx="487.5" cy="74.8" r="1.65"/>
<circle cx="489.5" cy="74.8" r="1.65"/>
<circle cx="485.0" cy="81.0" r="1.65"/>
<circle cx="482.5" cy="83.7" r="1.65"/>
<circle cx="483.3" cy="87.5" r="1.65"/>
<circle cx="489.5" cy="85.0" r="1.65"/>
<circle cx="529.2" cy="38.0" r="1.65"/>
<circle cx="522.8" cy="45.7" r="1.65"/>
<circle cx="538.5" cy="48.2" r="1.65"/>
<circle cx="521.5" cy="52.0" r="1.65"/>
<circle cx="536.5" cy="57.0" r="1.65"/>
<circle cx="499.0" cy="59.7" r="1.65"/>
<circle cx="504.7" cy="58.5" r="1.65"/>
<circle cx="517.2" cy="62.2" r="1.65"/>
<circle cx="526.0" cy="64.7" r="1.65"/>
<circle cx="523.5" cy="67.2" r="1.65"/>
<circle cx="534.7" cy="63.5" r="1.65"/>
<circle cx="536.0" cy="65.5" r="1.65"/>
<circle cx="538.0" cy="66.2" r="1.65"/>
<circle cx="535.8" cy="66.4" r="1.65"/>
<circle cx="499.7" cy="67.2" r="1.65"/>
<circle cx="501.7" cy="67.2" r="1.65"/>
<circle cx="507.2" cy="67.2" r="1.65"/>
<circle cx="512.2" cy="69.2" r="1.65"/>
<circle cx="527.2" cy="69.5" r="1.65"/>
<circle cx="555.5" cy="67.2" r="1.65"/>
<circle cx="567.5" cy="61.0" r="1.65"/>
<circle cx="568.5" cy="63.5" r="1.65"/>
<circle cx="570.0" cy="64.8" r="1.65"/>
<circle cx="579.5" cy="67.2" r="1.65"/>
<circle cx="556.0" cy="69.8" r="1.65"/>
<circle cx="498.5" cy="72.2" r="1.65"/>
<circle cx="502.8" cy="72.2" r="1.65"/>
<circle cx="508.5" cy="71.0" r="1.65"/>
<circle cx="513.5" cy="73.5" r="1.65"/>
<circle cx="522.3" cy="72.2" r="1.65"/>
<circle cx="525.5" cy="74.8" r="1.65"/>
<circle cx="531.2" cy="70.5" r="1.65"/>
<circle cx="532.2" cy="71.8" r="1.65"/>
<circle cx="533.5" cy="73.0" r="1.65"/>
<circle cx="535.0" cy="73.2" r="1.65"/>
<circle cx="537.2" cy="74.5" r="1.65"/>
<circle cx="538.5" cy="74.0" r="1.65"/>
<circle cx="540.0" cy="73.0" r="1.65"/>
<circle cx="541.0" cy="71.0" r="1.65"/>
<circle cx="559.3" cy="72.2" r="1.65"/>
<circle cx="561.0" cy="76.0" r="1.65"/>
<circle cx="562.0" cy="76.5" r="1.65"/>
<circle cx="566.5" cy="71.5" r="1.65"/>
<circle cx="567.0" cy="74.5" r="1.65"/>
<circle cx="569.5" cy="73.0" r="1.65"/>
<circle cx="570.5" cy="76.0" r="1.65"/>
<circle cx="572.0" cy="71.2" r="1.65"/>
<circle cx="574.5" cy="70.8" r="1.65"/>
<circle cx="577.0" cy="71.2" r="1.65"/>
<circle cx="576.0" cy="73.2" r="1.65"/>
<circle cx="579.5" cy="72.0" r="1.65"/>
<circle cx="491.5" cy="75.5" r="1.65"/>
<circle cx="496.5" cy="77.2" r="1.65"/>
<circle cx="494.0" cy="79.7" r="1.65"/>
<circle cx="500.8" cy="76.2" r="1.65"/>
<circle cx="503.5" cy="78.8" r="1.65"/>
<circle cx="509.0" cy="78.5" r="1.65"/>
<circle cx="519.5" cy="77.2" r="1.65"/>
<circle cx="529.8" cy="76.0" r="1.65"/>
<circle cx="528.5" cy="78.5" r="1.65"/>
<circle cx="526.5" cy="81.0" r="1.65"/>
<circle cx="524.2" cy="82.2" r="1.65"/>
<circle cx="532.5" cy="79.5" r="1.65"/>
<circle cx="534.0" cy="80.8" r="1.65"/>
<circle cx="552.5" cy="77.2" r="1.65"/>
<circle cx="554.5" cy="77.2" r="1.65"/>
<circle cx="557.5" cy="79.7" r="1.65"/>
<circle cx="547.5" cy="79.7" r="1.65"/>
<circle cx="550.3" cy="80.8" r="1.65"/>
<circle cx="564.5" cy="79.7" r="1.65"/>
<circle cx="568.8" cy="79.7" r="1.65"/>
<circle cx="571.8" cy="81.0" r="1.65"/>
<circle cx="575.5" cy="79.7" r="1.65"/>
<circle cx="578.0" cy="82.2" r="1.65"/>
<circle cx="491.0" cy="82.5" r="1.65"/>
<circle cx="491.5" cy="84.8" r="1.65"/>
<circle cx="497.0" cy="83.5" r="1.65"/>
<circle cx="519.2" cy="81.0" r="1.65"/>
<circle cx="516.2" cy="83.5" r="1.65"/>
<circle cx="506.0" cy="83.5" r="1.65"/>
<circle cx="508.5" cy="82.8" r="1.65"/>
<circle cx="510.5" cy="82.5" r="1.65"/>
<circle cx="511.0" cy="85.0" r="1.65"/>
<circle cx="502.2" cy="86.0" r="1.65"/>
<circle cx="505.5" cy="87.5" r="1.65"/>
<circle cx="541.5" cy="81.0" r="1.65"/>
<circle cx="545.5" cy="82.5" r="1.65"/>
<circle cx="542.5" cy="85.0" r="1.65"/>
<circle cx="539.3" cy="86.0" r="1.65"/>
<circle cx="549.5" cy="85.0" r="1.65"/>
<circle cx="552.0" cy="83.5" r="1.65"/>
<circle cx="554.0" cy="87.5" r="1.65"/>
<circle cx="555.0" cy="88.5" r="1.65"/>
<circle cx="558.0" cy="86.0" r="1.65"/>
<circle cx="563.8" cy="83.5" r="1.65"/>
<circle cx="564.5" cy="85.0" r="1.65"/>
<circle cx="493.5" cy="87.5" r="1.65"/>
<circle cx="494.5" cy="88.5" r="1.65"/>
<circle cx="492.5" cy="88.5" r="1.65"/>
<circle cx="497.8" cy="87.2" r="1.65"/>
<circle cx="495.5" cy="91.0" r="1.65"/>
<circle cx="516.5" cy="88.5" r="1.65"/>
<circle cx="506.5" cy="91.2" r="1.65"/>
<circle cx="520.5" cy="91.2" r="1.65"/>
<circle cx="530.5" cy="89.8" r="1.65"/>
<circle cx="540.5" cy="90.2" r="1.65"/>
<circle cx="549.0" cy="90.0" r="1.65"/>
<circle cx="550.0" cy="91.0" r="1.65"/>
<circle cx="551.0" cy="89.8" r="1.65"/>
<circle cx="578.5" cy="90.0" r="1.65"/>
<circle cx="577.0" cy="90.5" r="1.65"/>
<circle cx="572.3" cy="91.2" r="1.65"/>
<circle cx="511.5" cy="93.7" r="1.65"/>
<circle cx="514.7" cy="95.0" r="1.65"/>
<circle cx="517.8" cy="94.0" r="1.65"/>
<circle cx="504.0" cy="95.0" r="1.65"/>
<circle cx="500.3" cy="97.7" r="1.65"/>
<circle cx="527.8" cy="96.2" r="1.65"/>
<circle cx="543.5" cy="93.5" r="1.65"/>
<circle cx="545.0" cy="95.0" r="1.65"/>
<circle cx="547.0" cy="95.2" r="1.65"/>
<circle cx="551.5" cy="95.0" r="1.65"/>
<circle cx="559.0" cy="92.5" r="1.65"/>
<circle cx="562.5" cy="92.5" r="1.65"/>
<circle cx="560.0" cy="95.5" r="1.65"/>
<circle cx="524.5" cy="100.0" r="1.65"/>
<circle cx="542.7" cy="99.0" r="1.65"/>
<circle cx="547.5" cy="99.0" r="1.65"/>
<circle cx="556.5" cy="99.0" r="1.65"/>
<circle cx="561.3" cy="100.0" r="1.65"/>
<circle cx="490.0" cy="100.0" r="1.65"/>
<circle cx="513.5" cy="101.5" r="1.65"/>
<circle cx="515.5" cy="104.3" r="1.65"/>
<circle cx="546.0" cy="102.7" r="1.65"/>
<circle cx="563.3" cy="102.7" r="1.65"/>
<circle cx="531.0" cy="106.5" r="1.65"/>
<circle cx="521.0" cy="107.8" r="1.65"/>
<circle cx="518.5" cy="114.2" r="1.65"/>
<circle cx="565.5" cy="111.8" r="1.65"/>
<circle cx="513.0" cy="71.5" r="1.65"/>
<circle cx="597.5" cy="43.0" r="1.65"/>
<circle cx="603.2" cy="50.8" r="1.65"/>
<circle cx="583.2" cy="53.3" r="1.65"/>
<circle cx="594.0" cy="54.3" r="1.65"/>
<circle cx="595.7" cy="54.3" r="1.65"/>
<circle cx="594.5" cy="57.2" r="1.65"/>
<circle cx="588.8" cy="59.7" r="1.65"/>
<circle cx="592.5" cy="60.5" r="1.65"/>
<circle cx="593.2" cy="63.5" r="1.65"/>
<circle cx="603.7" cy="62.2" r="1.65"/>
<circle cx="600.5" cy="64.8" r="1.65"/>
<circle cx="606.3" cy="67.2" r="1.65"/>
<circle cx="596.5" cy="67.5" r="1.65"/>
<circle cx="601.5" cy="68.8" r="1.65"/>
<circle cx="595.0" cy="71.0" r="1.65"/>
<circle cx="584.5" cy="73.5" r="1.65"/>
<circle cx="588.2" cy="74.7" r="1.65"/>
<circle cx="591.8" cy="76.2" r="1.65"/>
<circle cx="600.0" cy="76.0" r="1.65"/>
<circle cx="605.7" cy="74.5" r="1.65"/>
<circle cx="607.0" cy="77.2" r="1.65"/>
<circle cx="604.5" cy="79.7" r="1.65"/>
<circle cx="605.0" cy="81.5" r="1.65"/>
<circle cx="582.5" cy="80.8" r="1.65"/>
<circle cx="586.0" cy="80.5" r="1.65"/>
<circle cx="585.5" cy="82.5" r="1.65"/>
<circle cx="581.5" cy="83.5" r="1.65"/>
<circle cx="590.0" cy="83.5" r="1.65"/>
<circle cx="587.5" cy="86.0" r="1.65"/>
<circle cx="598.2" cy="82.5" r="1.65"/>
<circle cx="585.0" cy="90.0" r="1.65"/>
<circle cx="582.0" cy="95.0" r="1.65"/>
<circle cx="591.5" cy="94.5" r="1.65"/>
<circle cx="590.5" cy="97.5" r="1.65"/>
<circle cx="589.5" cy="101.5" r="1.65"/>
<circle cx="583.7" cy="102.7" r="1.65"/>
<circle cx="599.3" cy="92.5" r="1.65"/>
<circle cx="598.5" cy="94.0" r="1.65"/>
<circle cx="602.5" cy="96.5" r="1.65"/>
<circle cx="663.5" cy="80.0" r="1.65"/>
<circle cx="635.5" cy="97.2" r="1.65"/>
<circle cx="637.2" cy="99.0" r="1.65"/>
<circle cx="647.0" cy="98.5" r="1.65"/>
<circle cx="645.0" cy="100.0" r="1.65"/>
<circle cx="643.2" cy="101.5" r="1.65"/>
<circle cx="661.5" cy="98.8" r="1.65"/>
<circle cx="664.0" cy="101.5" r="1.65"/>
<circle cx="657.0" cy="102.5" r="1.65"/>
<circle cx="656.5" cy="105.0" r="1.65"/>
<circle cx="659.0" cy="107.8" r="1.65"/>
<circle cx="635.5" cy="106.5" r="1.65"/>
<circle cx="636.5" cy="106.5" r="1.65"/>
<circle cx="586.8" cy="121.8" r="1.65"/>
<circle cx="622.0" cy="111.0" r="1.65"/>
<circle cx="623.5" cy="114.0" r="1.65"/>
<circle cx="624.5" cy="116.5" r="1.65"/>
<circle cx="627.5" cy="111.5" r="1.65"/>
<circle cx="629.0" cy="114.0" r="1.65"/>
<circle cx="634.5" cy="114.0" r="1.65"/>
<circle cx="638.5" cy="112.8" r="1.65"/>
<circle cx="640.8" cy="112.8" r="1.65"/>
<circle cx="642.5" cy="110.5" r="1.65"/>
<circle cx="650.8" cy="111.5" r="1.65"/>
<circle cx="660.8" cy="112.8" r="1.65"/>
<circle cx="664.8" cy="111.5" r="1.65"/>
<circle cx="668.5" cy="111.5" r="1.65"/>
<circle cx="613.8" cy="114.2" r="1.65"/>
<circle cx="617.5" cy="116.5" r="1.65"/>
<circle cx="619.8" cy="116.5" r="1.65"/>
<circle cx="618.5" cy="118.0" r="1.65"/>
<circle cx="612.0" cy="119.2" r="1.65"/>
<circle cx="610.5" cy="121.5" r="1.65"/>
<circle cx="607.5" cy="122.8" r="1.65"/>
<circle cx="609.8" cy="125.5" r="1.65"/>
<circle cx="625.5" cy="120.0" r="1.65"/>
<circle cx="627.0" cy="121.5" r="1.65"/>
<circle cx="628.5" cy="122.2" r="1.65"/>
<circle cx="634.0" cy="119.2" r="1.65"/>
<circle cx="633.0" cy="121.5" r="1.65"/>
<circle cx="632.0" cy="123.0" r="1.65"/>
<circle cx="638.8" cy="119.2" r="1.65"/>
<circle cx="642.2" cy="117.8" r="1.65"/>
<circle cx="644.0" cy="119.2" r="1.65"/>
<circle cx="648.5" cy="121.8" r="1.65"/>
<circle cx="652.8" cy="121.8" r="1.65"/>
<circle cx="657.8" cy="117.8" r="1.65"/>
<circle cx="660.5" cy="119.2" r="1.65"/>
<circle cx="658.3" cy="122.8" r="1.65"/>
<circle cx="659.5" cy="124.0" r="1.65"/>
<circle cx="662.8" cy="124.3" r="1.65"/>
<circle cx="668.5" cy="119.0" r="1.65"/>
<circle cx="669.5" cy="117.5" r="1.65"/>
<circle cx="669.5" cy="127.0" r="1.65"/>
<circle cx="615.5" cy="128.2" r="1.65"/>
<circle cx="619.5" cy="128.2" r="1.65"/>
<circle cx="625.7" cy="126.8" r="1.65"/>
<circle cx="637.0" cy="128.2" r="1.65"/>
<circle cx="639.5" cy="127.8" r="1.65"/>
<circle cx="641.0" cy="126.5" r="1.65"/>
<circle cx="651.5" cy="127.8" r="1.65"/>
<circle cx="650.0" cy="129.2" r="1.65"/>
<circle cx="648.8" cy="132.0" r="1.65"/>
<circle cx="662.2" cy="128.2" r="1.65"/>
<circle cx="609.3" cy="130.7" r="1.65"/>
<circle cx="608.5" cy="133.3" r="1.65"/>
<circle cx="611.0" cy="134.0" r="1.65"/>
<circle cx="613.0" cy="135.5" r="1.65"/>
<circle cx="615.0" cy="138.5" r="1.65"/>
<circle cx="616.5" cy="142.2" r="1.65"/>
<circle cx="618.8" cy="133.3" r="1.65"/>
<circle cx="630.5" cy="130.7" r="1.65"/>
<circle cx="632.7" cy="130.7" r="1.65"/>
<circle cx="631.3" cy="133.5" r="1.65"/>
<circle cx="644.5" cy="133.3" r="1.65"/>
<circle cx="653.5" cy="131.8" r="1.65"/>
<circle cx="656.0" cy="131.8" r="1.65"/>
<circle cx="665.8" cy="133.3" r="1.65"/>
<circle cx="654.5" cy="137.0" r="1.65"/>
<circle cx="654.5" cy="139.5" r="1.65"/>
<circle cx="622.5" cy="140.8" r="1.65"/>
<circle cx="626.3" cy="143.3" r="1.65"/>
<circle cx="646.5" cy="143.3" r="1.65"/>
<circle cx="665.3" cy="142.0" r="1.65"/>
<circle cx="666.5" cy="145.8" r="1.65"/>
<circle cx="667.3" cy="148.8" r="1.65"/>
<circle cx="612.5" cy="147.0" r="1.65"/>
<circle cx="630.8" cy="148.2" r="1.65"/>
<circle cx="652.0" cy="149.5" r="1.65"/>
<circle cx="614.5" cy="151.0" r="1.65"/>
<circle cx="617.0" cy="151.0" r="1.65"/>
<circle cx="621.3" cy="154.2" r="1.65"/>
<circle cx="620.5" cy="156.2" r="1.65"/>
<circle cx="647.8" cy="152.2" r="1.65"/>
<circle cx="650.3" cy="154.7" r="1.65"/>
<circle cx="400.5" cy="174.0" r="1.65"/>
<circle cx="401.2" cy="178.5" r="1.65"/>
<circle cx="416.0" cy="175.0" r="1.65"/>
<circle cx="672.2" cy="107.8" r="1.65"/>
<circle cx="671.5" cy="111.5" r="1.65"/>
<circle cx="674.2" cy="114.5" r="1.65"/>
<circle cx="673.0" cy="116.5" r="1.65"/>
<circle cx="672.8" cy="133.3" r="1.65"/>
<circle cx="675.3" cy="138.3" r="1.65"/>
<circle cx="738.5" cy="147.2" r="1.65"/>
<circle cx="741.8" cy="150.8" r="1.65"/>
<circle cx="737.5" cy="157.2" r="1.65"/>
<circle cx="740.5" cy="159.8" r="1.65"/>
<circle cx="731.2" cy="159.8" r="1.65"/>
<circle cx="689.7" cy="160.8" r="1.65"/>
<circle cx="691.5" cy="162.2" r="1.65"/>
<circle cx="714.3" cy="164.8" r="1.65"/>
<circle cx="730.0" cy="166.0" r="1.65"/>
<circle cx="734.5" cy="166.0" r="1.65"/>
<circle cx="736.0" cy="166.0" r="1.65"/>
<circle cx="741.3" cy="166.0" r="1.65"/>
<circle cx="743.8" cy="166.0" r="1.65"/>
<circle cx="701.8" cy="167.3" r="1.65"/>
<circle cx="695.8" cy="168.5" r="1.65"/>
<circle cx="694.0" cy="171.2" r="1.65"/>
<circle cx="707.8" cy="168.5" r="1.65"/>
<circle cx="704.5" cy="169.8" r="1.65"/>
<circle cx="706.0" cy="172.5" r="1.65"/>
<circle cx="717.3" cy="168.5" r="1.65"/>
<circle cx="716.0" cy="172.5" r="1.65"/>
<circle cx="726.0" cy="168.5" r="1.65"/>
<circle cx="725.3" cy="170.0" r="1.65"/>
<circle cx="727.3" cy="172.5" r="1.65"/>
<circle cx="681.5" cy="171.2" r="1.65"/>
<circle cx="688.5" cy="173.8" r="1.65"/>
<circle cx="731.8" cy="173.8" r="1.65"/>
<circle cx="743.3" cy="173.8" r="1.65"/>
<circle cx="739.5" cy="176.5" r="1.65"/>
<circle cx="677.0" cy="176.2" r="1.65"/>
<circle cx="677.8" cy="177.5" r="1.65"/>
<circle cx="679.0" cy="180.0" r="1.65"/>
<circle cx="706.2" cy="176.2" r="1.65"/>
<circle cx="705.5" cy="177.8" r="1.65"/>
<circle cx="699.2" cy="180.0" r="1.65"/>
<circle cx="719.7" cy="178.8" r="1.65"/>
<circle cx="718.0" cy="180.0" r="1.65"/>
<circle cx="724.8" cy="178.8" r="1.65"/>
<circle cx="723.8" cy="180.0" r="1.65"/>
<circle cx="728.5" cy="177.5" r="1.65"/>
<circle cx="734.3" cy="178.8" r="1.65"/>
<circle cx="740.0" cy="180.0" r="1.65"/>
<circle cx="742.5" cy="180.0" r="1.65"/>
<circle cx="729.5" cy="182.5" r="1.65"/>
<circle cx="683.0" cy="182.5" r="1.65"/>
<circle cx="681.5" cy="183.5" r="1.65"/>
<circle cx="680.8" cy="184.0" r="1.65"/>
<circle cx="689.2" cy="182.5" r="1.65"/>
<circle cx="694.7" cy="185.2" r="1.65"/>
<circle cx="712.3" cy="182.5" r="1.65"/>
<circle cx="710.0" cy="185.2" r="1.65"/>
<circle cx="709.5" cy="187.5" r="1.65"/>
<circle cx="711.2" cy="188.5" r="1.65"/>
<circle cx="679.0" cy="187.8" r="1.65"/>
<circle cx="680.5" cy="187.8" r="1.65"/>
<circle cx="684.8" cy="188.5" r="1.65"/>
<circle cx="692.5" cy="188.5" r="1.65"/>
<circle cx="698.7" cy="187.5" r="1.65"/>
<circle cx="699.7" cy="188.8" r="1.65"/>
<circle cx="703.5" cy="188.8" r="1.65"/>
<circle cx="682.7" cy="193.0" r="1.65"/>
<circle cx="690.5" cy="192.8" r="1.65"/>
<circle cx="693.0" cy="194.2" r="1.65"/>
<circle cx="700.5" cy="192.0" r="1.65"/>
<circle cx="701.0" cy="195.0" r="1.65"/>
<circle cx="709.5" cy="190.8" r="1.65"/>
<circle cx="714.0" cy="191.5" r="1.65"/>
<circle cx="722.5" cy="192.8" r="1.65"/>
<circle cx="711.0" cy="195.2" r="1.65"/>
<circle cx="715.5" cy="195.2" r="1.65"/>
<circle cx="713.0" cy="197.8" r="1.65"/>
<circle cx="719.0" cy="196.5" r="1.65"/>
<circle cx="720.8" cy="196.5" r="1.65"/>
<circle cx="719.0" cy="200.0" r="1.65"/>
<circle cx="721.0" cy="202.5" r="1.65"/>
<circle cx="723.0" cy="204.3" r="1.65"/>
<circle cx="679.5" cy="197.8" r="1.65"/>
<circle cx="675.8" cy="201.8" r="1.65"/>
<circle cx="676.5" cy="207.0" r="1.65"/>
<circle cx="696.5" cy="197.8" r="1.65"/>
<circle cx="694.0" cy="200.3" r="1.65"/>
<circle cx="695.5" cy="200.0" r="1.65"/>
<circle cx="697.3" cy="203.0" r="1.65"/>
<circle cx="687.8" cy="201.5" r="1.65"/>
<circle cx="686.0" cy="204.3" r="1.65"/>
<circle cx="702.3" cy="205.5" r="1.65"/>
<circle cx="703.0" cy="207.0" r="1.65"/>
<circle cx="716.7" cy="206.8" r="1.65"/>
<circle cx="728.0" cy="202.8" r="1.65"/>
<circle cx="726.7" cy="208.0" r="1.65"/>
<circle cx="724.3" cy="211.8" r="1.65"/>
<circle cx="733.3" cy="197.8" r="1.65"/>
<circle cx="732.5" cy="201.8" r="1.65"/>
<circle cx="736.8" cy="199.2" r="1.65"/>
<circle cx="738.3" cy="201.8" r="1.65"/>
<circle cx="735.5" cy="204.3" r="1.65"/>
<circle cx="684.7" cy="213.2" r="1.65"/>
<circle cx="687.3" cy="218.3" r="1.65"/>
<circle cx="691.0" cy="217.0" r="1.65"/>
<circle cx="697.8" cy="219.5" r="1.65"/>
<circle cx="704.7" cy="214.3" r="1.65"/>
<circle cx="721.7" cy="219.5" r="1.65"/>
<circle cx="686.5" cy="227.2" r="1.65"/>
<circle cx="707.3" cy="225.8" r="1.65"/>
<circle cx="751.8" cy="224.5" r="1.65"/>
<circle cx="748.5" cy="228.5" r="1.65"/>
<circle cx="744.8" cy="232.0" r="1.65"/>
<circle cx="749.3" cy="231.0" r="1.65"/>
<circle cx="747.8" cy="234.0" r="1.65"/>
<circle cx="746.5" cy="236.5" r="1.65"/>
<circle cx="745.5" cy="239.0" r="1.65"/>
<circle cx="744.2" cy="241.2" r="1.65"/>
<circle cx="752.5" cy="236.0" r="1.65"/>
<circle cx="750.5" cy="241.0" r="1.65"/>
<circle cx="753.2" cy="248.5" r="1.65"/>
<circle cx="758.0" cy="247.5" r="1.65"/>
<circle cx="758.5" cy="251.2" r="1.65"/>
<circle cx="753.5" cy="252.5" r="1.65"/>
<circle cx="755.5" cy="254.0" r="1.65"/>
<circle cx="751.2" cy="256.2" r="1.65"/>
<circle cx="759.5" cy="256.2" r="1.65"/>
<circle cx="756.8" cy="258.8" r="1.65"/>
<circle cx="755.0" cy="261.5" r="1.65"/>
<circle cx="757.5" cy="264.0" r="1.65"/>
<circle cx="759.5" cy="268.5" r="1.65"/>
<circle cx="810.2" cy="210.7" r="1.65"/>
<circle cx="812.2" cy="215.7" r="1.65"/>
<circle cx="795.7" cy="218.3" r="1.65"/>
<circle cx="799.5" cy="218.3" r="1.65"/>
<circle cx="803.3" cy="222.0" r="1.65"/>
<circle cx="802.5" cy="227.2" r="1.65"/>
<circle cx="766.8" cy="225.8" r="1.65"/>
<circle cx="772.0" cy="224.5" r="1.65"/>
<circle cx="775.0" cy="227.2" r="1.65"/>
<circle cx="777.5" cy="227.0" r="1.65"/>
<circle cx="781.0" cy="228.0" r="1.65"/>
<circle cx="783.0" cy="229.2" r="1.65"/>
<circle cx="778.0" cy="230.5" r="1.65"/>
<circle cx="794.5" cy="230.3" r="1.65"/>
<circle cx="798.0" cy="231.0" r="1.65"/>
<circle cx="789.0" cy="232.0" r="1.65"/>
<circle cx="786.5" cy="234.8" r="1.65"/>
<circle cx="785.8" cy="236.0" r="1.65"/>
<circle cx="781.8" cy="234.5" r="1.65"/>
<circle cx="804.5" cy="233.5" r="1.65"/>
<circle cx="803.7" cy="236.5" r="1.65"/>
<circle cx="762.5" cy="237.2" r="1.65"/>
<circle cx="763.2" cy="242.5" r="1.65"/>
<circle cx="773.0" cy="238.5" r="1.65"/>
<circle cx="776.5" cy="238.5" r="1.65"/>
<circle cx="776.3" cy="242.5" r="1.65"/>
<circle cx="787.0" cy="239.8" r="1.65"/>
<circle cx="789.5" cy="241.0" r="1.65"/>
<circle cx="793.8" cy="239.8" r="1.65"/>
<circle cx="796.2" cy="239.8" r="1.65"/>
<circle cx="807.8" cy="241.0" r="1.65"/>
<circle cx="805.0" cy="243.5" r="1.65"/>
<circle cx="808.5" cy="244.0" r="1.65"/>
<circle cx="767.5" cy="243.5" r="1.65"/>
<circle cx="770.0" cy="246.0" r="1.65"/>
<circle cx="768.2" cy="247.5" r="1.65"/>
<circle cx="784.5" cy="243.5" r="1.65"/>
<circle cx="780.5" cy="247.5" r="1.65"/>
<circle cx="798.2" cy="247.5" r="1.65"/>
<circle cx="800.5" cy="250.0" r="1.65"/>
<circle cx="801.3" cy="252.0" r="1.65"/>
<circle cx="802.5" cy="254.0" r="1.65"/>
<circle cx="806.3" cy="248.5" r="1.65"/>
<circle cx="792.0" cy="251.2" r="1.65"/>
<circle cx="774.5" cy="251.2" r="1.65"/>
<circle cx="769.5" cy="252.5" r="1.65"/>
<circle cx="771.5" cy="254.0" r="1.65"/>
<circle cx="773.8" cy="255.2" r="1.65"/>
<circle cx="763.8" cy="255.0" r="1.65"/>
<circle cx="765.5" cy="255.0" r="1.65"/>
<circle cx="780.0" cy="255.0" r="1.65"/>
<circle cx="779.5" cy="257.5" r="1.65"/>
<circle cx="790.0" cy="257.5" r="1.65"/>
<circle cx="792.5" cy="257.5" r="1.65"/>
<circle cx="795.2" cy="257.5" r="1.65"/>
<circle cx="797.8" cy="257.5" r="1.65"/>
<circle cx="800.5" cy="257.5" r="1.65"/>
<circle cx="806.8" cy="256.5" r="1.65"/>
<circle cx="809.5" cy="255.0" r="1.65"/>
<circle cx="810.8" cy="259.0" r="1.65"/>
<circle cx="768.5" cy="260.0" r="1.65"/>
<circle cx="770.5" cy="262.5" r="1.65"/>
<circle cx="762.0" cy="262.5" r="1.65"/>
<circle cx="765.0" cy="265.2" r="1.65"/>
<circle cx="766.2" cy="265.2" r="1.65"/>
<circle cx="783.7" cy="264.0" r="1.65"/>
<circle cx="790.8" cy="266.5" r="1.65"/>
<circle cx="793.3" cy="266.5" r="1.65"/>
<circle cx="805.5" cy="265.2" r="1.65"/>
<circle cx="808.8" cy="265.2" r="1.65"/>
<circle cx="819.0" cy="262.5" r="1.65"/>
<circle cx="817.5" cy="264.5" r="1.65"/>
<circle cx="816.3" cy="266.8" r="1.65"/>
<circle cx="845.3" cy="261.5" r="1.65"/>
<circle cx="811.5" cy="268.5" r="1.65"/>
<circle cx="814.5" cy="268.8" r="1.65"/>
<circle cx="772.5" cy="268.8" r="1.65"/>
<circle cx="761.0" cy="272.5" r="1.65"/>
<circle cx="764.2" cy="271.8" r="1.65"/>
<circle cx="782.5" cy="274.0" r="1.65"/>
<circle cx="788.3" cy="272.8" r="1.65"/>
<circle cx="778.7" cy="277.8" r="1.65"/>
<circle cx="791.5" cy="279.2" r="1.65"/>
<circle cx="785.0" cy="289.2" r="1.65"/>
<circle cx="818.3" cy="272.8" r="1.65"/>
<circle cx="817.0" cy="275.2" r="1.65"/>
<circle cx="820.3" cy="276.8" r="1.65"/>
<circle cx="813.5" cy="281.5" r="1.65"/>
<circle cx="812.2" cy="285.5" r="1.65"/>
<circle cx="815.0" cy="285.5" r="1.65"/>
<circle cx="813.7" cy="290.5" r="1.65"/>
<circle cx="815.5" cy="290.5" r="1.65"/>
<circle cx="821.5" cy="285.2" r="1.65"/>
<circle cx="822.2" cy="287.0" r="1.65"/>
<circle cx="819.7" cy="292.8" r="1.65"/>
<circle cx="820.7" cy="295.5" r="1.65"/>
<circle cx="824.0" cy="296.5" r="1.65"/>
<circle cx="823.3" cy="298.3" r="1.65"/>
<circle cx="827.8" cy="281.8" r="1.65"/>
<circle cx="831.0" cy="280.0" r="1.65"/>
<circle cx="833.5" cy="279.2" r="1.65"/>
<circle cx="838.5" cy="280.2" r="1.65"/>
<circle cx="840.5" cy="274.0" r="1.65"/>
<circle cx="842.8" cy="276.5" r="1.65"/>
<circle cx="844.0" cy="279.2" r="1.65"/>
<circle cx="846.5" cy="272.8" r="1.65"/>
<circle cx="848.5" cy="270.5" r="1.65"/>
<circle cx="849.0" cy="282.8" r="1.65"/>
<circle cx="844.7" cy="285.5" r="1.65"/>
<circle cx="842.2" cy="289.2" r="1.65"/>
<circle cx="846.0" cy="289.2" r="1.65"/>
<circle cx="834.0" cy="286.5" r="1.65"/>
<circle cx="830.5" cy="288.0" r="1.65"/>
<circle cx="832.2" cy="290.8" r="1.65"/>
<circle cx="836.5" cy="289.2" r="1.65"/>
<circle cx="839.2" cy="291.8" r="1.65"/>
<circle cx="841.5" cy="298.3" r="1.65"/>
<circle cx="829.0" cy="303.3" r="1.65"/>
<circle cx="843.5" cy="302.0" r="1.65"/>
<circle cx="840.5" cy="304.5" r="1.65"/>
<circle cx="838.5" cy="304.5" r="1.65"/>
<circle cx="835.7" cy="307.0" r="1.65"/>
<circle cx="849.0" cy="305.5" r="1.65"/>
<circle cx="827.0" cy="308.2" r="1.65"/>
<circle cx="823.8" cy="309.2" r="1.65"/>
<circle cx="825.5" cy="314.0" r="1.65"/>
<circle cx="828.3" cy="315.0" r="1.65"/>
<circle cx="829.7" cy="313.3" r="1.65"/>
<circle cx="847.5" cy="311.0" r="1.65"/>
<circle cx="837.3" cy="317.2" r="1.65"/>
<circle cx="832.8" cy="318.5" r="1.65"/>
<circle cx="834.8" cy="321.2" r="1.65"/>
<circle cx="831.5" cy="323.5" r="1.65"/>
<circle cx="826.5" cy="331.2" r="1.65"/>
<circle cx="822.7" cy="336.3" r="1.65"/>
<circle cx="851.5" cy="272.8" r="1.65"/>
<circle cx="853.0" cy="282.8" r="1.65"/>
<circle cx="854.5" cy="291.8" r="1.65"/>
<circle cx="861.5" cy="289.2" r="1.65"/>
<circle cx="859.0" cy="295.5" r="1.65"/>
<circle cx="865.0" cy="293.5" r="1.65"/>
<circle cx="864.5" cy="295.5" r="1.65"/>
<circle cx="869.3" cy="296.8" r="1.65"/>
<circle cx="870.5" cy="286.8" r="1.65"/>
<circle cx="871.2" cy="288.0" r="1.65"/>
<circle cx="869.7" cy="281.8" r="1.65"/>
<circle cx="872.8" cy="280.3" r="1.65"/>
<circle cx="878.5" cy="281.8" r="1.65"/>
<circle cx="872.2" cy="275.2" r="1.65"/>
<circle cx="874.8" cy="274.0" r="1.65"/>
<circle cx="874.0" cy="294.3" r="1.65"/>
<circle cx="877.0" cy="294.3" r="1.65"/>
<circle cx="879.3" cy="295.8" r="1.65"/>
<circle cx="878.0" cy="299.5" r="1.65"/>
<circle cx="875.5" cy="302.0" r="1.65"/>
<circle cx="879.8" cy="302.2" r="1.65"/>
<circle cx="856.5" cy="299.5" r="1.65"/>
<circle cx="858.5" cy="302.0" r="1.65"/>
<circle cx="868.5" cy="303.0" r="1.65"/>
<circle cx="866.0" cy="305.5" r="1.65"/>
<circle cx="851.0" cy="303.0" r="1.65"/>
<circle cx="849.5" cy="305.5" r="1.65"/>
<circle cx="856.0" cy="305.5" r="1.65"/>
<circle cx="857.5" cy="308.0" r="1.65"/>
<circle cx="873.5" cy="308.0" r="1.65"/>
<circle cx="852.3" cy="309.2" r="1.65"/>
<circle cx="855.5" cy="313.5" r="1.65"/>
<circle cx="853.5" cy="314.8" r="1.65"/>
<circle cx="862.5" cy="313.5" r="1.65"/>
<circle cx="863.5" cy="315.0" r="1.65"/>
<circle cx="867.3" cy="310.8" r="1.65"/>
<circle cx="854.3" cy="324.8" r="1.65"/>
<circle cx="868.0" cy="252.5" r="1.65"/>
<circle cx="861.0" cy="256.3" r="1.65"/>
<circle cx="860.3" cy="261.5" r="1.65"/>
<circle cx="862.8" cy="261.5" r="1.65"/>
<circle cx="859.7" cy="266.5" r="1.65"/>
<circle cx="866.7" cy="267.8" r="1.65"/>
<circle cx="871.5" cy="265.2" r="1.65"/>
<circle cx="876.0" cy="267.8" r="1.65"/>
<circle cx="880.5" cy="264.0" r="1.65"/>
<circle cx="754.5" cy="276.8" r="1.65"/>
</g>
<g fill="#666" font-size="12.8" text-anchor="end">
<text x="51" y="35.0">30C</text>
<text x="51" y="60.4">28C</text>
<text x="51" y="85.8">26C</text>
<text x="51" y="111.2">24C</text>
<text x="51" y="136.5">22C</text>
<text x="51" y="161.9">20C</text>
<text x="51" y="187.3">18C</text>
<text x="51" y="212.7">16C</text>
<text x="51" y="238.1">14C</text>
<text x="51" y="263.5">12C</text>
<text x="51" y="288.8">10C</text>
<text x="51" y="314.2">8C</text>
<text x="51" y="339.6">6C</text>
<text x="51" y="365.0">4C</text>
</g>
<g fill="#666" font-size="12.8" text-anchor="middle">
<text x="94.7" y="375.6">Jan</text>
<text x="163.2" y="375.6">Feb</text>
<text x="231.6" y="375.6">Mar</text>
<text x="299.0" y="375.6">Apr</text>
<text x="369.4" y="375.6">May</text>
<text x="435.8" y="375.6">Jun</text>
<text x="502.0" y="375.6">Jul</text>
<text x="574.5" y="375.6">Aug</text>
<text x="641.3" y="375.6">Sep</text>
<text x="708.8" y="375.6">Oct</text>
<text x="777.8" y="375.6">Nov</text>
<text x="847.3" y="375.6">Dec</text>
</g>
<text fill="#666" font-size="13" text-anchor="middle" transform="translate(18,194.5) rotate(-90)">Temperature</text>
<text fill="#000" font-size="15.85" text-anchor="middle" x="450" y="22">Monthly Mean Temperatures 1901 - 2009</text>
<text fill="#aaa" font-size="10.5" x="11" y="395">Latitude 35.25 Longitude 0.25</text>
<text fill="#aaa" font-size="10.5" text-anchor="end" x="879" y="395">worldspecies.org</text>
<rect x="65" y="35" width="86" height="17" rx="6.5" ry="6.5" fill="#fff" filter="url(#sh)"/>
<rect x="75" y="41" width="5" height="5" fill="#00b400" shape-rendering="crispEdges"/>
<text fill="#000" font-size="10.1" x="87.3" y="46.8">Mean Temp</text>
</svg></body></html>
